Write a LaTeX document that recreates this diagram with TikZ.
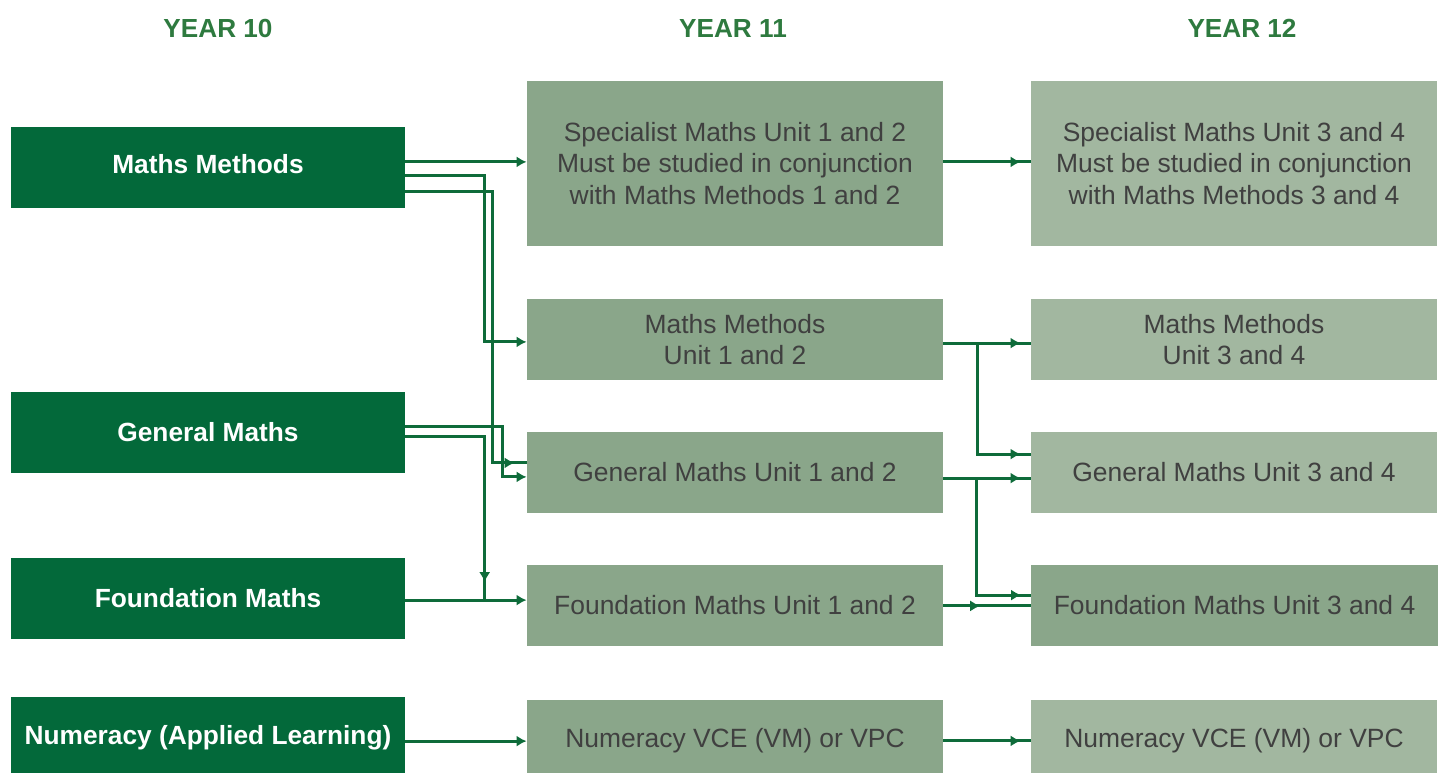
\documentclass[tikz,border=0pt]{standalone}
\usepackage{fontspec}
\setmainfont{Liberation Sans}
\usetikzlibrary{arrows.meta,positioning,decorations.markings}

\definecolor{boxgreen}{HTML}{03693A}
\definecolor{linkgreen}{HTML}{0E6B3A}
\definecolor{yeargreen}{HTML}{2E7A3F}
\definecolor{unitsage}{HTML}{8AA68A}
\definecolor{unitpale}{HTML}{A2B7A0}
\definecolor{unittext}{HTML}{404040}

% arrow head partway along a link (negative = measured back from the end)
\tikzset{tipat/.style={postaction={decorate},
  decoration={markings,mark=at position #1 with {\arrow{>}}}}}

\begin{document}
\begin{tikzpicture}[x=0.025cm,y=-0.025cm,>={Latex[length=0.25cm,width=0.28cm]},semithick]
  \tikzstyle{year}=[text=yeargreen,font=\bfseries\fontsize{18.6}{22}\selectfont]
  \tikzstyle{y10}=[fill=boxgreen,text=white,font=\bfseries\fontsize{18.7}{22}\selectfont,
    minimum width=9.85cm,minimum height=2.025cm,align=center,inner sep=0pt]
  \tikzstyle{y11}=[fill=unitsage,text=unittext,font=\fontsize{18.8}{22.7}\selectfont,
    minimum width=10.4cm,minimum height=2.025cm,align=center,inner sep=0pt]
  \tikzstyle{y12}=[y11,fill=unitpale,minimum width=10.15cm]
  \tikzstyle{link}=[draw=linkgreen,line width=2.1pt]

  \useasboundingbox (0,0) rectangle (1438,772);

  \node[year] (h10) at (218,28)  {YEAR 10};
  \node[year] (h11) at (733,28)  {YEAR 11};
  \node[year] (h12) at (1242,28) {YEAR 12};

  % year 10
  \node[y10] (mm10) at (208,167.5) {\raisebox{0.2cm}{Maths Methods}};
  \node[y10] (gm10) at (208,432.5) {General Maths};
  \node[y10] (fm10) at (208,598.5) {\raisebox{-0.12cm}{Foundation Maths}};
  \node[y10] (nu10) at (208,737.5) {Numeracy (Applied Learning)};

  % year 11
  \node[y11,minimum height=4.125cm] (sm11) at (735,163.5)
    {\raisebox{-0.14cm}{\parbox{10cm}{\centering Specialist Maths Unit 1 and 2\\
      Must be studied in conjunction\\with Maths Methods 1 and 2}}};
  \node[y11] (mm11) at (735,339.5) {Maths Methods\\Unit 1 and 2};
  \node[y11] (gm11) at (735,472.5) {General Maths Unit 1 and 2};
  \node[y11] (fm11) at (735,605.5) {Foundation Maths Unit 1 and 2};
  \node[y11] (nu11) at (735,740.5) {Numeracy VCE (VM) or VPC};

  % year 12
  \node[y12,minimum height=4.125cm] (sm12) at (1234,163.5)
    {\raisebox{-0.14cm}{\parbox{10cm}{\centering Specialist Maths Unit 3 and 4\\
      Must be studied in conjunction\\with Maths Methods 3 and 4}}};
  \node[y12] (mm12) at (1234,339.5) {Maths Methods\\Unit 3 and 4};
  \node[y12] (gm12) at (1234,472.5) {General Maths Unit 3 and 4};
  \node[y12,fill=unitsage] (fm12) at (1234.5,605.5) {Foundation Maths Unit 3 and 4};
  \node[y12] (nu12) at (1234,740.5) {Numeracy VCE (VM) or VPC};

  % year 10 -> year 11
  \draw[link,->] ([yshift=0.14cm]mm10.east) coordinate (mmtop) -- (mmtop -| sm11.west);
  \draw[link,->] ([yshift=-0.21cm]mm10.east) -| ([xshift=-1.05cm,yshift=-0.06cm]mm11.west)
    -- ([yshift=-0.06cm]mm11.west);
  \draw[link,tipat=-0.3cm] ([yshift=-0.59cm]mm10.east) -| ([xshift=-0.85cm,yshift=0.24cm]gm11.west)
    -- ([yshift=0.24cm]gm11.west);
  \draw[link,->] ([yshift=0.16cm]gm10.east) -| ([xshift=-0.6cm,yshift=-0.11cm]gm11.west)
    -- ([yshift=-0.11cm]gm11.west);
  \draw[link,tipat=-0.45cm] ([yshift=-0.09cm]gm10.east) -| ([xshift=1.98cm,yshift=-0.04cm]fm10.east);
  \draw[link,->] ([yshift=-0.04cm]fm10.east) coordinate (fmline) -- (fmline -| fm11.west);
  \draw[link,->] ([yshift=-0.09cm]nu10.east) coordinate (nuline) -- (nuline -| nu11.west);

  % year 11 -> year 12
  \draw[link,tipat=-0.25cm] ([yshift=0.04cm]sm11.east) coordinate (smline) -- (smline -| sm12.west);
  \draw[link,tipat=-0.25cm] ([yshift=-0.09cm]mm11.east) coordinate (mmline) -- (mmline -| mm12.west);
  \draw[link,tipat=-0.25cm] ([xshift=0.85cm]mmline) |- ([yshift=0.46cm]gm12.west);
  \draw[link,tipat=-0.25cm] ([yshift=-0.14cm]gm11.east) coordinate (gmline) -- (gmline -| gm12.west);
  \draw[link,tipat=-0.25cm] ([xshift=0.82cm]gmline) |- ([yshift=0.26cm]fm12.west);
  \draw[link,tipat=-1.27cm] ([yshift=-0.01cm]fm11.east) coordinate (fmend) -- (fmend -| fm12.west);
  \draw[link,tipat=-0.25cm] ([yshift=-0.01cm]nu11.east) coordinate (nuend) -- (nuend -| nu12.west);
\end{tikzpicture}
\end{document}
